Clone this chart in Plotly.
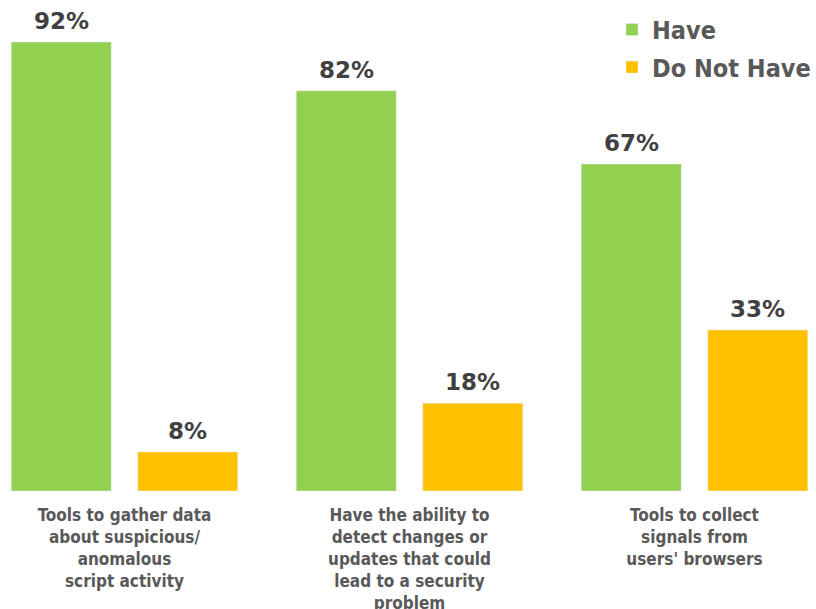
import plotly.graph_objects as go

# Survey categories (multi-line labels) and the share of respondents per answer
categories = [
    "Tools to gather data<br>about suspicious/<br>anomalous<br>script activity",
    "Have the ability to<br>detect changes or<br>updates that could<br>lead to a security<br>problem",
    "Tools to collect<br>signals from<br>users' browsers",
]
have = [92, 82, 67]
do_not_have = [8, 18, 33]

GREEN = "#92D050"
ORANGE = "#FFC000"
VALUE_FONT = dict(family="DejaVu Sans", size=23, color="#404040")

fig = go.Figure()
fig.add_trace(go.Bar(name="<b>Have</b>", x=categories, y=have,
                     marker_color=GREEN, legendgroup="a"))
fig.add_trace(go.Bar(name="<b>Do Not Have</b>", x=categories, y=do_not_have,
                     marker_color=ORANGE, legendgroup="b"))

# value labels above each bar, offset left/right to sit over its bar in the group
for vals, shift in ((have, -63), (do_not_have, 63)):
    for cat, v in zip(categories, vals):
        fig.add_annotation(
            x=cat, y=v, text=f"<b>{v}%</b>", showarrow=False,
            xanchor="center", yanchor="bottom", xshift=shift, yshift=6,
            font=VALUE_FONT,
        )

fig.update_layout(
    width=816, height=609,
    margin=dict(l=0, r=0, t=0, b=118),
    paper_bgcolor="white", plot_bgcolor="white",
    barmode="group", bargap=0.112, bargroupgap=0.21,
    showlegend=True,
    legend=dict(
        x=1.0, y=0.986, xanchor="right", yanchor="top",
        traceorder="grouped", tracegroupgap=2,
        font=dict(family="DejaVu Sans Condensed", size=25, color="#595959"),
        bgcolor="rgba(0,0,0,0)",
    ),
)
fig.update_xaxes(
    range=[-0.4368, 2.4263], automargin=False,
    showgrid=False, showline=False, zeroline=False,
    ticks="", ticklabelstandoff=12,
    tickfont=dict(family="DejaVu Sans Condensed", size=17, color="#595959"),
    tickprefix="<b>", ticksuffix="</b>",
)
fig.update_yaxes(range=[0, 100.6], visible=False, automargin=False)

fig.write_html("out.html")
